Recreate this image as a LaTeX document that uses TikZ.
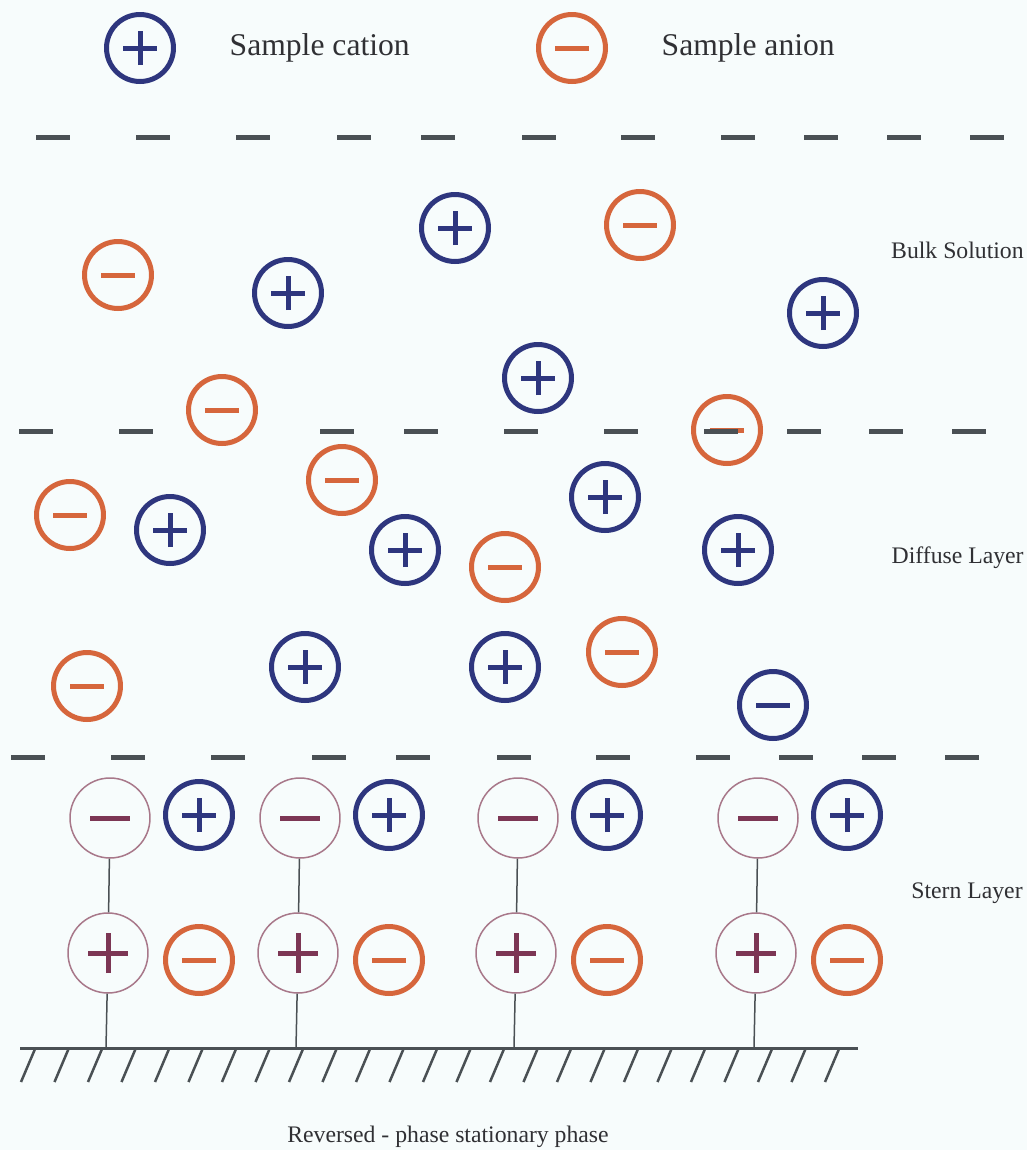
\documentclass[tikz,border=0pt]{standalone}
\usepackage{fontspec}
\setmainfont{Liberation Serif}
\usetikzlibrary{positioning}
\definecolor{catblue}{RGB}{46,54,126}
\definecolor{anorange}{RGB}{214,102,60}
\definecolor{surfring}{RGB}{168,120,138}
\definecolor{surfsign}{RGB}{124,54,84}
\definecolor{linegrey}{RGB}{74,80,84}
\definecolor{txtgrey}{RGB}{48,48,52}
\definecolor{paper}{RGB}{247,252,252}
\tikzset{
  ion/.style={circle, line width=0.1cm, minimum size=1.34cm, inner sep=0pt},
  minusbar/.style 2 args={path picture={
    \draw[#1, line width=0.1cm]
      ([xshift=-#2]path picture bounding box.center) -- ([xshift=#2]path picture bounding box.center);}},
  plusbar/.style 2 args={path picture={
    \draw[#1, line width=0.1cm]
      ([xshift=-#2]path picture bounding box.center) -- ([xshift=#2]path picture bounding box.center)
      ([yshift=-#2]path picture bounding box.center) -- ([yshift=#2]path picture bounding box.center);}},
  cation/.style={ion, draw=catblue, plusbar={catblue}{0.34cm}},
  anion/.style={ion, draw=anorange, minusbar={anorange}{0.34cm}},
  blueneg/.style={ion, draw=catblue, minusbar={catblue}{0.34cm}},
  site/.style={circle, draw=surfring, line width=0.03cm, minimum size=1.6cm, inner sep=0pt},
  sitepos/.style={site, plusbar={surfsign}{0.4cm}},
  siteneg/.style={site, minusbar={surfsign}{0.4cm}},
  sep/.style={linegrey, line width=0.1cm},
  tether/.style={linegrey, line width=0.03cm},
  hatch/.style={linegrey, line width=0.05cm},
  lbl/.style={text=txtgrey, inner sep=0pt, font=\fontsize{13.5}{16}\selectfont},
  legend/.style={text=txtgrey, font=\fontsize{18}{22}\selectfont},
}
\begin{document}
\begin{tikzpicture}[x=0.02cm, y=-0.02cm]
  \fill[paper] (0,0) rectangle (1027,1150);
  \useasboundingbox (0,0) rectangle (1027,1150);

  % legend
  \node[cation] (lcat) at (140,48) {};
  \node[legend, right=0.95cm of lcat] (lcattxt) {Sample cation};
  \node[anion] (lan) at (572,48) {};
  \node[legend, right=0.95cm of lan] (lantxt) {Sample anion};

  % layer boundaries
  \foreach \x in {36,136,236,337,421,522,621,721,804,887,970}
    \draw[sep] (\x,137) -- ++(34,0);
  \foreach \x in {11,111,211,312,396,497,596,696,779,862,945}
    \draw[sep] (\x,757) -- ++(34,0);

  % bulk solution
  \node[cation] (b1) at (455,228) {};
  \node[anion] (b2) at (640,225) {};
  \node[anion] (b3) at (118,275) {};
  \node[cation] (b4) at (288,293) {};
  \node[cation] (b5) at (823,313) {};
  \node[cation] (b6) at (538,378) {};
  \node[anion] (b7) at (222,410) {};
  \node[anion] (b8) at (727,430) {};
  \node[lbl, anchor=east] (bulk) at (1024,250) {Bulk Solution};

  \foreach \x in {19,119,320,404,504,604,704,787,869,952}
    \draw[sep] (\x,431) -- ++(34,0);

  % diffuse layer
  \node[anion] (d1) at (70,515) {};
  \node[cation] (d2) at (170,530) {};
  \node[anion] (d3) at (342,480) {};
  \node[cation] (d4) at (405,550) {};
  \node[anion] (d5) at (505,567) {};
  \node[cation] (d6) at (605,497) {};
  \node[cation] (d7) at (738,550) {};
  \node[anion] (d8) at (87,686) {};
  \node[cation] (d9) at (305,667) {};
  \node[cation] (d10) at (505,667) {};
  \node[anion] (d11) at (622,652) {};
  \node[blueneg] (d12) at (773,705) {};
  \node[lbl, anchor=east] (diffuse) at (1024,558) {Diffuse Layer};

  % stern layer
  \foreach \i/\x in {1/110,2/300,3/518,4/758} {
    \node[siteneg] (sm\i) at (\x,818) {};
    \node[sitepos] (sp\i) at ({\x-2},953) {};
    \node[cation] (sc\i) at ({\x+89},815) {};
    \node[anion] (sa\i) at ({\x+89},960) {};
    \coordinate (g\i) at ({\x-4},1048);
    \draw[tether] (sm\i) -- (sp\i);
    \draw[tether] (sp\i) -- (g\i);
  }
  \node[lbl, anchor=east] (stern) at (1023,893) {Stern Layer};

  % stationary phase surface
  \coordinate (s0) at (20,1048);
  \coordinate (s1) at (858,1048);
  \draw[linegrey, line width=0.06cm] (s0) -- (s1);
  \foreach \i in {0,...,24}
    \draw[hatch] ({35+33.5*\i},1049) -- ++(-14,33);
  \node[lbl] (phase) at (448,1137) {Reversed - phase stationary phase};
\end{tikzpicture}
\end{document}
